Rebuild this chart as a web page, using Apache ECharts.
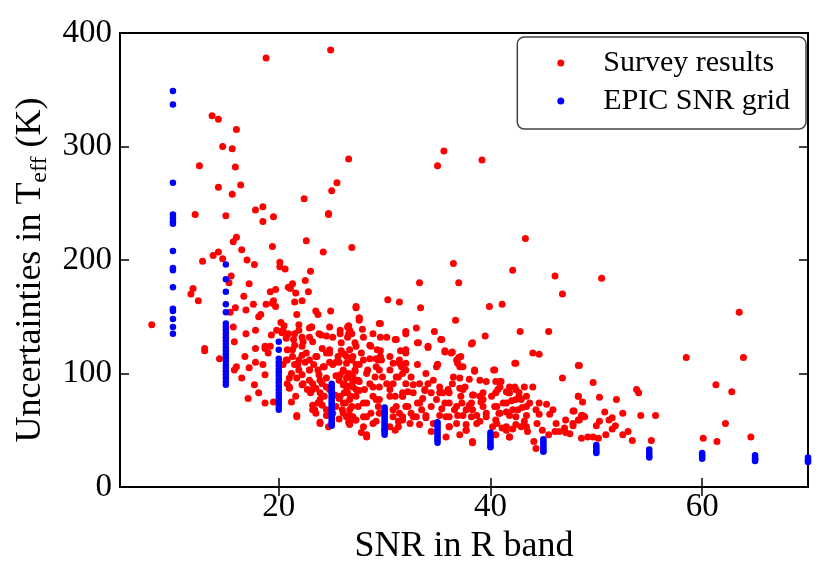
<!DOCTYPE html>
<html>
<head>
    <meta charset="UTF-8">
    <title>Teff uncertainties vs SNR</title>
    <script src="https://cdn.jsdelivr.net/npm/echarts@6/dist/echarts.min.js"></script>
    <style>
        html, body { margin: 0; padding: 0; background: #fff; }
        #main { width: 830px; height: 581px; }
    </style>
</head>
<body>
<div id="main"></div>
<script type="text/javascript">

// survey results, [SNR, sigma Teff (K)]
var surveyLowSnr = [
    [18.8,378],[24.9,385],[13.7,327],[14.3,324],[16.0,315],[14.7,300],[15.6,298],[12.5,283],[15.9,282],[26.6,289],
    [14.3,264],[16.4,266],[15.6,258],[25.5,268],[25.0,261],[22.4,254],[12.1,240],[15.0,239],[17.8,244],[18.5,247],
    [18.5,234],[19.5,238],[24.7,241],[24.7,240],[16.0,220],[15.7,216],[16.5,209],[19.4,212],[22.6,217],[26.9,211],
    [24.2,207],[12.8,199],[13.8,204],[14.3,207],[14.7,201],[17.0,200],[17.7,196],[20.1,198],
    [8.0,143],[11.7,170],[11.9,175],[12.4,164],[13.0,122],[13.0,120],[14.4,113],[15.5,186],[15.3,180],[15.7,141],
    [15.9,158],[15.4,154],[15.8,128],[16.0,106],[15.8,103],[16.5,96],[17.2,179],[16.7,168],[16.9,156],[16.9,135],
    [16.8,115],[17.2,105],[17.1,78],[17.7,90],[17.8,110],[17.8,122],[18.1,150],[18.3,152],[17.8,138],[17.6,161],
    [18.7,124],[19.0,118],[18.7,99],[18.1,83],[18.7,74],[19.5,75],[18.5,108],[19.2,172],[19.7,174],[18.8,161],
    [19.4,162],[19.7,159],[19.5,164],[19.3,134],[19.8,138],[19.2,124],[18.7,122],[20.6,192],[20.1,194],[21.1,175],
    [21.3,179],[20.9,176],[21.6,171],[21.5,163],[22.2,164],[22.5,182],[23.0,190],[22.8,172],[21.7,152],[21.9,143],
    [21.9,138],[22.9,140],[23.1,141],[23.5,155],[23.7,152],[24.9,155],[27.3,159],[27.6,149],[26.6,142],[26.7,138],
    [26.6,135],[25.8,138],[24.8,141],[24.5,133],[23.8,135],[22.9,132],[22.2,132],[21.4,130],[20.7,131],[20.3,136],
    [20.2,145],[20.5,142],[20.9,135],
    [20.8,121],[21.3,115],[21.5,108],[21.9,112],[22.2,116],[22.5,110],[21.9,103],[21.2,100],[20.4,108],[20.8,91],
    [21.0,96],[21.7,96],[22.2,90],[22.9,94],[23.2,91],[22.7,86],[23.0,83],[23.5,87],[23.9,83],[23.7,74],
    [24.1,72],[23.4,68],[23.9,57],[24.7,53],[21.7,63],[22.9,112],[23.3,108],[23.7,103],[24.3,106],[24.8,110],
    [25.1,108],[25.7,110],[25.6,115],[26.2,117],[26.9,112],[27.3,108],[27.2,103],[26.6,100],[26.1,102],[25.4,98],
    [25.7,94],[26.4,96],[27.0,93],[27.5,94],[26.1,90],[26.7,89],[27.3,86],[26.2,83],[26.8,80],[25.7,78],
    [26.3,74],[26.9,71],[26.0,68],[26.7,63],[27.3,59],[26.6,57],[25.7,60],[25.4,71],[24.1,91],[24.5,96],
    [23.8,99],[24.8,86],[25.3,81],[24.3,80],[21.6,80],[21.0,87],[22.2,99],[22.9,103],[24.5,118],[24.1,122],
    [24.8,121],[23.5,115],[22.2,124],[21.5,125],[20.8,112],[21.2,75],[23.5,65],[23.2,72],[24.5,63],[25.1,65],
    [20.4,138],[21.5,135],[22.3,128],[23.2,128],[23.1,141],[24.0,134],[25.1,132],[26.5,141],[26.9,135],[27.6,147],
    [29.5,144],[30.2,132],[31.1,130],[32.0,135],[28.6,125],[27.3,124],[25.9,127],[24.8,118],[23.6,115],[22.6,118],
    [21.3,121],[20.7,112],[21.8,108],[22.9,103],[24.2,106],[25.4,110],[26.4,115],[28.0,112],[29.2,113],[30.5,115],
    [31.4,109],[29.5,103],[28.3,100],[27.0,97],[25.8,99],[23.9,94],[22.3,91],[21.0,88],[23.1,85],[24.5,88],
    [26.4,88],[27.6,85],[28.9,88],[30.2,91],[31.1,97],[32.0,91],[31.7,83],[30.5,80],[29.2,77],[28.0,74],
    [26.7,77],[25.8,80],[23.9,77],[23.2,68],[24.5,68],[26.1,65],[27.0,62],[28.3,62],[29.5,65],[30.8,68],
    [31.7,62],[31.3,53],[29.2,58],[28.0,53],[26.7,59],[21.7,62],[23.9,56],[28.3,46]
];

var surveyMidSnr = [
    [36.5,197],[42.1,191],[46.1,186],[46.8,170],[33.3,180],[37.0,180],[30.3,165],[31.4,163],[27.3,158],[33.4,158],
    [39.9,159],[41.1,161],[27.6,149],[29.6,144],[36.7,147],[33.0,140],[34.7,137],[32.0,137],[28.9,135],[27.9,139],
    [42.8,137],[45.5,137],[39.5,133],[29.6,132],[31.0,130],[35.3,130],[33.2,127],[34.1,123],[38.2,126],[35.7,120],
    [36.4,119],[44.0,118],[44.6,117],[42.3,109],[31.5,120],[32.0,118],[29.6,120],[29.6,115],[29.4,112],[29.3,121],
    [25.9,120],[37.0,114],[36.8,112],[37.1,106],[35.0,108],[34.9,106],[38.5,103],[40.3,103],[48.3,107],[46.8,96],
    [44.0,88],[48.3,80],[47.9,67],[48.6,63],[48.3,59],[45.3,73],[44.6,64],[45.6,64],[43.4,63],[44.4,56],
    [43.5,49],[45.5,46],[46.1,49],[46.5,49],[47.0,52],[47.1,48],[44.1,40],[44.3,34],[41.8,44],[38.3,39],
    [40.6,71],[40.8,65],[41.2,74],[41.5,66],[41.7,83],[42.0,76],[42.4,77],[42.7,80],[42.1,68],[43.0,70],
    [42.4,62],[43.2,58],[42.9,53],[42.1,51],[41.5,50],[41.1,52],[40.5,59],[40.2,53],[39.6,62],[39.3,71],
    [39.0,80],[38.4,81],[38.2,74],[37.7,68],[38.2,62],[38.7,56],[37.7,50],[37.1,46],[36.8,56],[36.1,53],
    [35.8,62],[35.4,69],[34.9,77],[35.5,83],[36.1,74],[36.6,68],[36.9,63],[37.3,74],[37.4,86],[37.1,96],
    [37.6,88],[36.4,91],[36.0,86],[35.2,88],[34.4,83],[34.1,91],[33.8,86],[33.6,78],[33.1,74],[33.5,68],
    [33.9,61],[33.0,62],[32.4,56],[32.5,65],[32.0,71],[31.7,80],[32.2,84],[32.7,90],[33.3,91],[32.5,97],
    [32.0,103],[31.6,106],[31.3,97],[30.8,91],[30.5,86],[31.0,80],[31.1,71],[31.4,65],[30.8,62],[30.5,53],
    [31.0,50],[31.3,58],[30.0,50],
    [26.1,103],[26.7,97],[26.2,91],[27.0,88],[27.6,93],[26.5,83],[27.3,80],[28.1,86],[28.6,91],[29.1,97],
    [28.4,103],[27.6,108],[29.2,106],[29.5,88],[28.9,80],[28.3,74],[27.5,71],[26.7,68],[26.1,74],[26.4,62],
    [27.2,59],[28.0,62],[28.7,65],[29.4,71],[28.9,56],[27.8,48],[28.3,44],[26.7,55],[29.5,77],[29.8,97],
    [30.5,103],[30.8,109],[31.4,112],[29.7,112],[28.6,113],[27.0,115],[26.4,109],[27.2,102],
    [39.0,94],[39.6,93],[40.5,93],[41.0,93],[40.7,86],[41.5,84],[41.8,88],[42.3,88],[42.7,83],[43.2,88],
    [40.1,80],[39.3,77],[38.3,68],[43.4,80],[43.7,74],[44.3,68],[44.6,74],[46.2,56],[45.9,68],[47.1,59],
    [47.8,56],[48.9,62],[49.2,44],[44.9,50],
    [26.5,132],[27.2,127],[25.8,135],[28.0,132],[26.7,121],[27.8,118],[28.7,124],
    [35.6,296],[35.0,283],[39.2,288],[43.3,219],
    [33.1,127],[34.1,124],[35.4,130],[35.7,119],[36.3,118],[37.2,115],[38.3,127],[32.0,121],[32.0,109],[33.1,108],
    [35.0,108],[36.9,109],[37.4,106],[38.5,102],[40.4,103],[42.4,109],[31.7,100],[33.9,100],[34.6,94],[36.5,97],
    [37.1,87],[38.0,95],[40.9,93],[40.9,88],[42.4,86],[41.8,83],[40.5,83],[39.3,83],[38.3,81],[37.2,80],
    [36.1,83],[35.2,83],[33.8,85],[32.7,83],[31.7,80],[32.2,71],[33.3,74],[34.4,71],[35.7,74],[36.8,71],
    [38.0,72],[39.1,75],[40.4,71],[41.5,74],[42.9,77],[43.4,71],[42.6,68],[41.8,63],[40.9,65],[39.6,65],
    [38.7,63],[37.4,63],[36.1,62],[35.2,63],[33.9,63],[32.7,62],[31.7,59],[33.3,55],[34.6,56],[36.1,53],
    [37.7,55],[39.0,58],[40.6,56],[41.5,53],[42.4,55],[43.4,53],[35.8,44],[37.7,50],[38.3,40],[41.8,44],
    [40.5,46],[34.4,49]
];

var surveyHighSnr = [
    [50.5,184],[63.5,154],[58.5,114],[63.9,114],[48.4,107],[49.7,92],[61.3,90],[62.8,84],[48.3,80],[48.7,75],
    [50.3,79],[51.9,77],[53.8,86],[54.0,83],[47.8,67],[48.4,59],[48.7,63],[47.8,54],[47.5,47],[49.7,44],
    [50.2,43],[50.0,54],[50.3,58],[50.8,66],[50.9,46],[51.2,59],[51.5,61],[51.8,54],[51.5,51],[52.5,65],
    [52.5,46],[53.0,49],[53.4,41],[54.2,63],[55.2,41],[55.6,63],[48.6,43],[60.1,43],[61.4,40],[62.2,56],
    [64.6,44]
];

// EPIC SNR grid: one column of uncertainties per grid SNR
var gridSnr = [10, 15, 20, 25, 30, 35, 40, 45, 50, 55, 60, 65, 70];
var gridErr = [
    [349,337,268,240,237,234,232,208,193,191,176,157,155,148,141,135],
    [196,183,172,161,154,144,141,138,135,132,129,126,123,120,117,114,111,108,105,102,99,96,93,90],
    [128,121,113,110,107,104,101,98,95,92,89,86,83,80,77,74,71,68],
    [91,89,87,85,83,81,79,77,75,73,71,69,67,65,63,61,59,57,55,54],
    [70,68,66,64,62,60,58,56,54,52,50,48,46],
    [57,55,53,51,49,47,45,43,41,39],
    [48,46,44,42,40,38,36,35],
    [42,40,38,36,34,32,31],
    [37,35,33,31,30],
    [33,31,29,27,26],
    [30,28,26,25],
    [28,26,25,24,23],
    [26,24,23,22]
];

var xTicks = [20, 40, 60];

var surveyData = surveyLowSnr.concat(surveyMidSnr, surveyHighSnr);
var gridData = [];
for (var i = 0; i < gridSnr.length; i++) {
    for (var j = 0; j < gridErr[i].length; j++) {
        gridData.push([gridSnr[i], gridErr[i][j]]);
    }
}

var serif = 'Liberation Serif';
var myChart = echarts.init(document.getElementById('main'));

var tickStyle = { inside: true, length: 9, lineStyle: { color: '#000', width: 1.5 } };

var option = {
    backgroundColor: '#fff',
    animation: false,
    textStyle: { fontFamily: serif },
    grid: {
        left: 120, right: 22, top: 33, bottom: 94,
        show: true, borderColor: '#000', borderWidth: 2, backgroundColor: 'transparent'
    },
    legend: {
        orient: 'vertical',
        right: 24, top: 37,
        padding: [11, 16, 13, 40],
        itemGap: 8,
        itemWidth: 75, itemHeight: 7,
        borderColor: '#444', borderWidth: 1.5, borderRadius: 7,
        textStyle: { fontFamily: serif, fontSize: 30, color: '#000' },
        data: [
            { name: 'Survey results', icon: 'circle' },
            { name: 'EPIC SNR grid', icon: 'circle' }
        ]
    },
    xAxis: [{
        type: 'value', min: 5, max: 70,
        name: 'SNR in R band', nameLocation: 'middle', nameGap: 34,
        nameTextStyle: { fontFamily: serif, fontSize: 36, color: '#000' },
        axisLine: { show: false },
        axisTick: Object.assign({ customValues: xTicks }, tickStyle),
        axisLabel: { customValues: xTicks, fontFamily: serif, fontSize: 33, color: '#000', margin: 4 },
        splitLine: { show: false }
    }, {
        type: 'value', min: 5, max: 70, position: 'top',
        axisLine: { show: false },
        axisTick: Object.assign({ customValues: xTicks }, tickStyle),
        axisLabel: { show: false },
        splitLine: { show: false }
    }],
    yAxis: [{
        type: 'value', min: 0, max: 400, interval: 100,
        name: 'Uncertainties in T{sub|eff} (K)', nameLocation: 'middle', nameGap: 51,
        nameTextStyle: {
            fontFamily: serif, fontSize: 36, color: '#000', padding: [0, 20, 0, 0],
            rich: { sub: { fontFamily: serif, fontSize: 24, color: '#000', padding: [18, 0, 0, 0] } }
        },
        axisLine: { show: false },
        axisTick: tickStyle,
        axisLabel: { fontFamily: serif, fontSize: 33, color: '#000', margin: 8 },
        splitLine: { show: false }
    }, {
        type: 'value', min: 0, max: 400, interval: 100, position: 'right',
        axisLine: { show: false },
        axisTick: tickStyle,
        axisLabel: { show: false },
        splitLine: { show: false }
    }],
    series: [{
        name: 'Survey results',
        type: 'scatter',
        data: surveyData,
        symbolSize: 7,
        itemStyle: { color: '#ff0000', opacity: 1 }
    }, {
        name: 'EPIC SNR grid',
        type: 'scatter',
        data: gridData,
        symbolSize: 6.5,
        itemStyle: { color: '#0000ff', opacity: 1 }
    }]
};

myChart.setOption(option);

</script>
</body>
</html>
